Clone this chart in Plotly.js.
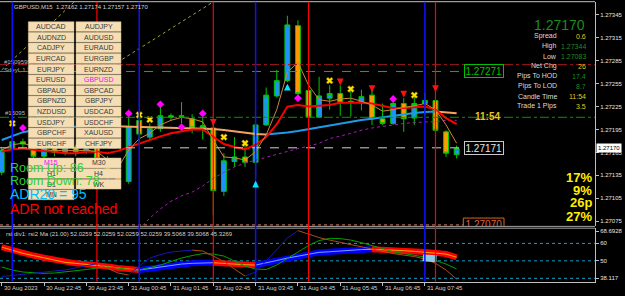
<!DOCTYPE html>
<html>
<head>
<meta charset="utf-8">
<script src="https://cdn.plot.ly/plotly-3.0.1.min.js"></script>
<style>
html,body{margin:0;padding:0;background:#000;overflow:hidden;}
#chart{width:625px;height:296px;}
</style>
</head>
<body>
<div id="chart"></div>
<script>
// ---------------- data ----------------
const barTimes = ['30 Aug 21:45','30 Aug 22:00','30 Aug 22:15','30 Aug 22:30','30 Aug 22:45','30 Aug 23:00','30 Aug 23:15','30 Aug 23:30','30 Aug 23:45',
'31 Aug 00:00','31 Aug 00:15','31 Aug 00:30','31 Aug 00:45','31 Aug 01:00','31 Aug 01:15','31 Aug 01:30','31 Aug 01:45','31 Aug 02:00','31 Aug 02:15','31 Aug 02:30',
'31 Aug 02:45','31 Aug 03:00','31 Aug 03:15','31 Aug 03:30','31 Aug 03:45','31 Aug 04:00','31 Aug 04:15','31 Aug 04:30','31 Aug 04:45','31 Aug 05:00',
'31 Aug 05:15','31 Aug 05:30','31 Aug 05:45','31 Aug 06:00','31 Aug 06:15','31 Aug 06:30','31 Aug 06:45','31 Aug 07:00','31 Aug 07:15','31 Aug 07:30',
'31 Aug 07:45','31 Aug 08:00','31 Aug 08:15','31 Aug 08:30'];

const openP  = [1.27139,1.27170,1.27179,1.27176,1.27160,1.27173,1.27165,1.27172,1.27166,1.27172,
1.27157,1.27140,1.27127,1.27207,1.27185,1.27196,1.27213,1.27213,1.27209,1.27196,
1.27197,1.27114,1.27153,1.27159,1.27152,1.27201,1.27239,1.27259,1.27331,1.27246,
1.27211,1.27236,1.27242,1.27232,1.27230,1.27240,1.27209,1.27203,1.27229,1.27210,
1.27229,1.27233,1.27192,1.27162];
const highP  = [1.27172,1.27190,1.27183,1.27180,1.27177,1.27178,1.27176,1.27175,1.27178,1.27176,
1.27160,1.27145,1.27212,1.27215,1.27203,1.27227,1.27216,1.27231,1.27215,1.27212,
1.27205,1.27164,1.27185,1.27177,1.27203,1.27250,1.27273,1.27344,1.27338,1.27249,
1.27264,1.27253,1.27253,1.27245,1.27247,1.27247,1.27229,1.27234,1.27236,1.27237,
1.27243,1.27242,1.27194,1.27174];
const lowP   = [1.27135,1.27166,1.27171,1.27155,1.27157,1.27160,1.27161,1.27160,1.27163,1.27150,
1.27120,1.27118,1.27124,1.27179,1.27181,1.27192,1.27207,1.27203,1.27190,1.27182,
1.27083,1.27108,1.27146,1.27146,1.27133,1.27200,1.27237,1.27257,1.27237,1.27205,
1.27210,1.27221,1.27213,1.27212,1.27220,1.27201,1.27201,1.27201,1.27192,1.27201,
1.27214,1.27186,1.27159,1.27157];
const closeP = [1.27168,1.27179,1.27176,1.27160,1.27173,1.27165,1.27172,1.27166,1.27174,1.27157,
1.27140,1.27128,1.27199,1.27189,1.27196,1.27213,1.27211,1.27212,1.27197,1.27200,
1.27115,1.27154,1.27159,1.27152,1.27201,1.27240,1.27259,1.27332,1.27242,1.27211,
1.27239,1.27242,1.27230,1.27231,1.27238,1.27209,1.27203,1.27229,1.27209,1.27229,
1.27233,1.27194,1.27164,1.27170];

// main-panel indicator lines
const maRed = [1.27166,1.27169,1.27170,1.27168,1.27167,1.27166,1.27164,1.27164,1.27166,1.27166,
1.27164,1.27167,1.27172,1.27177,1.27182,1.27186,1.27190,1.27193,1.27195,1.27195,
1.27186,1.27176,1.27172,1.27169,1.27175,1.27185,1.27202,1.27225,1.27227,1.27225,
1.27226,1.27227,1.27230,1.27230,1.27230,1.27229,1.27226,1.27223,1.27223,1.27224,
1.27225,1.27221,1.27210,1.27202];
const maTrend = [1.271812,1.271862,1.271915,1.271940,1.271958,1.271970,1.271980,1.271987,1.271994,1.272000,
1.271996,1.271993,1.271990,1.271987,1.271984,1.271981,1.271978,1.271975,1.271971,1.271966,
1.271958,1.271942,1.271922,1.271902,1.271890,1.271886,1.271895,1.271912,1.271930,1.271955,
1.271980,1.272003,1.272028,1.272052,1.272073,1.272092,1.272112,1.272132,1.272150,1.272166,
1.272178,1.272185,1.272176,1.272163];
const maFast = [1.27168,1.27175,1.27177,1.27173,1.27169,1.27167,1.27168,1.27167,1.27168,1.27166,
1.27155,1.27145,1.27168,1.27183,1.27190,1.27201,1.27207,1.27211,1.27209,1.27205,
1.27181,1.27159,1.27158,1.27155,1.27166,1.27188,1.27221,1.27270,1.27283,1.27253,
1.27234,1.27232,1.27235,1.27236,1.27232,1.27227,1.27219,1.27221,1.27224,1.27226,
1.27229,1.27221,1.27201,1.27177];
const bandLow = [null,null,null,null,null,null,null,null,null,null,
null,1.27035,1.27050,1.27065,1.27079,1.27091,1.27101,1.27108,1.27113,1.27121,
1.27131,1.27139,1.27146,1.27151,1.27155,1.27159,1.27163,1.27167,1.27170,1.27173,
1.27177,1.27183,1.27186,1.27190,1.27194,1.27197,1.27199,1.27201,1.27203,1.27204,
1.27205,1.27205,1.27207,1.27207];
const oliveA_idx = [0, 8],  oliveA_p = [1.27273, 1.27377];
const oliveB_idx = [9, 21], oliveB_p = [1.27266, 1.27371];

// signal marks
const diamondIdx = [2,12,15,17,19,28,37];
const diamondP   = [1.27197,1.27216,1.27228,1.27198,1.27216,1.27236,1.27235];
const crossIdx   = [1,13,14,21,23,31,33,39];
const crossP     = [1.27203,1.27214,1.27208,1.27185,1.27177,1.27259,1.27248,1.27240];
const downIdx    = [20,32,35,38,41];
const downP      = [1.27204,1.27257,1.27248,1.27241,1.27248];
const upIdx      = [24,27];
const upP        = [1.27124,1.27251];

// horizontal price levels
const levelPrices = [1.27280, 1.27271, 1.27211, 1.27171, 1.27070];
const priceTicks  = [1.27345,1.27315,1.27285,1.27255,1.27225,1.27195,1.27165,1.27135,1.27105,1.27075];

// vertical session lines
const vBlueTimes = ['30 Aug 22:00','31 Aug 01:00','31 Aug 03:45','31 Aug 07:45'];
const vRedTimes  = ['31 Aug 00:00','31 Aug 02:45','31 Aug 05:00','31 Aug 08:00'];

// x tick labels
const tickTimes  = ['30 Aug 21:45','30 Aug 22:45','30 Aug 23:45','31 Aug 00:45','31 Aug 01:45','31 Aug 02:45','31 Aug 03:45','31 Aug 04:45','31 Aug 05:45','31 Aug 06:45','31 Aug 07:45'];
const tickLabels = ['30 Aug 2023','30 Aug 22:45','30 Aug 23:45','31 Aug 00:45','31 Aug 01:45','31 Aug 02:45','31 Aug 03:45','31 Aug 04:45','31 Aug 05:45','31 Aug 06:45','31 Aug 07:45'];

// lower (rsi) panel
const rsiMa = [57.89,56.06,54.29,53.03,51.77,50.74,49.14,48.57,48.00,47.60,
46.74,45.89,45.31,44.74,45.60,46.29,47.31,48.17,48.57,48.86,
48.91,48.46,48.00,47.77,47.60,48.74,50.17,51.60,52.74,54.06,
54.86,55.20,55.71,56.17,56.46,56.57,56.40,56.17,55.83,55.43,
55.03,54.57,53.89,52.03];
const rsiSig = [46.46,44.74,43.60,43.03,42.86,43.03,43.60,44.17,45.03,45.89,
46.46,45.89,45.03,44.74,46.17,47.60,49.60,51.60,53.03,54.17,
53.89,52.74,49.89,47.03,45.31,45.03,47.60,51.31,55.31,58.74,
61.60,62.86,62.74,61.89,60.46,58.86,57.03,55.20,54.17,53.31,
52.17,50.17,48.17,45.33];
const rsiVal = [41.03,41.71,42.46,42.86,43.60,44.17,44.74,45.89,47.03,48.46,
45.89,43.03,41.89,47.03,51.60,53.60,55.03,55.77,56.17,55.60,
52.74,49.60,45.31,41.31,43.60,49.89,56.17,63.03,67.31,65.31,
63.31,61.89,60.46,59.31,58.06,56.74,55.31,54.17,53.31,52.46,
51.03,48.57,44.74,39.51];
const blobIdx = [39.8, 40.4, 41.1];
const blobV   = [51.7, 51.6, 51.2];
const rsiLevels = [60, 50, 40];
const rsiTickVals = [67.0, 60, 50, 40];
const rsiTickText = ['68.6928','60','50','38.117'];

// panels / texts
const pairsLeft  = ['AUDCAD','AUDNZD','CADJPY','EURCAD','EURJPY','EURUSD','GBPAUD','GBPNZD','NZDUSD','USDJPY','GBPCHF','EURCHF'];
const pairsRight = ['AUDJPY','AUDUSD','EURAUD','EURGBP','EURNZD','GBPUSD','GBPCAD','GBPJPY','USDCAD','USDCHF','XAUUSD','CHFJPY'];
const tfLeft  = ['M15','H1','D1','MN'];
const tfRight = ['M30','H4','WK'];
const infoLabels = ['Spread','High','Low','Net Chg','Pips To HOD','Pips To LOD','Candle Time','Trade 1 Pips'];
const infoValues = ['0.6','1.27344','1.27083','26','17.4','8.7','11:54','3.5'];
const infoKinds  = ['y','g','g','y','g','g','y','y'];
const pctTexts = ['17%','9%','26p','27%'];

// ---------------- helpers ----------------
const F = 'Liberation Sans, Arial, sans-serif';
const PW = 595, PH = 282;
const px = v => v / PW;
const py = v => 1 - v / PH;
const posAtPx = v => (v - 1.7) / 10.58;
const xs = barTimes.map((t, i) => i);
const ix = t => barTimes.indexOf(t);
const XL = posAtPx(0), XR = posAtPx(595);

function trendRuns(xv, yv, upColor, downColor, width, yaxis) {
  const out = [];
  let start = 0;
  const dir = k => yv[k + 1] >= yv[k];
  for (let k = 0; k < yv.length - 1; k++) {
    if (k === yv.length - 2 || dir(k + 1) !== dir(k)) {
      out.push({type: 'scatter', mode: 'lines', x: xv.slice(start, k + 2), y: yv.slice(start, k + 2),
        xaxis: 'x', yaxis: yaxis, line: {color: dir(k) ? upColor : downColor, width: width},
        hoverinfo: 'skip', showlegend: false});
      start = k + 1;
    }
  }
  return out;
}

// ---------------- traces ----------------
const traces = [];
traces.push({type: 'candlestick', x: xs, open: openP, high: highP, low: lowP, close: closeP,
  xaxis: 'x', yaxis: 'y', whiskerwidth: 0, hoverinfo: 'skip', showlegend: false,
  increasing: {line: {color: '#00C800', width: 1}, fillcolor: '#1E90FF'},
  decreasing: {line: {color: '#00C800', width: 1}, fillcolor: '#FF9900'}});
traces.push({type: 'scatter', mode: 'lines', x: xs, y: bandLow, xaxis: 'x', yaxis: 'y',
  line: {color: '#A020B0', width: 1, dash: 'dot'}, hoverinfo: 'skip', showlegend: false});
traces.push({type: 'scatter', mode: 'lines', x: oliveA_idx, y: oliveA_p, xaxis: 'x', yaxis: 'y',
  line: {color: '#A0A040', width: 1, dash: 'dot'}, hoverinfo: 'skip', showlegend: false});
traces.push({type: 'scatter', mode: 'lines', x: oliveB_idx, y: oliveB_p, xaxis: 'x', yaxis: 'y',
  line: {color: '#A0A040', width: 1, dash: 'dot'}, hoverinfo: 'skip', showlegend: false});
traces.push(...trendRuns(xs, maTrend, '#1C9BE8', '#F4A460', 2, 'y'));
traces.push({type: 'scatter', mode: 'lines', x: xs, y: maRed, xaxis: 'x', yaxis: 'y',
  line: {color: '#FF0000', width: 2}, hoverinfo: 'skip', showlegend: false});
traces.push({type: 'scatter', mode: 'lines', x: xs, y: maFast, xaxis: 'x', yaxis: 'y',
  line: {color: '#C8873A', width: 1}, hoverinfo: 'skip', showlegend: false});
traces.push({type: 'scatter', mode: 'markers', x: diamondIdx, y: diamondP, xaxis: 'x', yaxis: 'y',
  marker: {symbol: 'diamond', size: 6, color: '#FF00FF'}, hoverinfo: 'skip', showlegend: false});
traces.push({type: 'scatter', mode: 'markers', x: crossIdx, y: crossP, xaxis: 'x', yaxis: 'y',
  marker: {symbol: 'x', size: 6, color: '#FFE000', line: {color: '#807000', width: 0.5}}, hoverinfo: 'skip', showlegend: false});
// left partially hidden object labels
traces.push({type: 'scatter', mode: 'text', x: [posAtPx(4), posAtPx(4), posAtPx(5)], y: [1.27283, 1.27272, 1.27216],
  text: ['#1509595', 'Sdeyl, 1.2', '#15095'], textposition: 'middle right', cliponaxis: true,
  textfont: {family: F, size: 6, color: '#B8B8B8'}, xaxis: 'x', yaxis: 'y', hoverinfo: 'skip', showlegend: false});

// lower panel
traces.push(...trendRuns(xs, rsiMa, '#0000FF', '#FF0000', 6, 'y2'));
traces.push(...trendRuns(xs, rsiMa, '#7FA0FF', '#FFA500', 1, 'y2'));
traces.push({type: 'scatter', mode: 'lines', x: xs, y: rsiSig, xaxis: 'x', yaxis: 'y2',
  line: {color: '#00A000', width: 1}, hoverinfo: 'skip', showlegend: false});
traces.push(...trendRuns(xs, rsiVal, '#1515C0', '#B04A1A', 1, 'y2'));
traces.push({type: 'scatter', mode: 'lines', x: blobIdx, y: blobV, xaxis: 'x', yaxis: 'y2',
  line: {color: '#87CEEB', width: 7}, hoverinfo: 'skip', showlegend: false});

// ---------------- shapes ----------------
const shapes = [];
const gray = '#BFBFBF';
shapes.push({type: 'line', xref: 'paper', yref: 'paper', x0: 0, x1: 1, y0: py(1.7), y1: py(1.7), line: {color: gray, width: 1}, layer: 'above'});
shapes.push({type: 'line', xref: 'paper', yref: 'paper', x0: 0, x1: 1, y0: py(226.4), y1: py(226.4), line: {color: '#A0A0A0', width: 1}, layer: 'above'});
shapes.push({type: 'line', xref: 'paper', yref: 'paper', x0: 0, x1: 1, y0: py(228.2), y1: py(228.2), line: {color: '#A0A0A0', width: 1}, layer: 'above'});
const levelStyles = [
  {c: '#A01818', d: 'dashdot', end: XR},
  {c: '#00C000', d: 'dash', end: posAtPx(463)},
  {c: '#009A00', d: 'dashdot', end: XR},
  {c: '#D0D0D0', d: 'dash', end: posAtPx(463)},
  {c: '#E08060', d: 'dot', end: posAtPx(463)}
];
levelPrices.forEach((p, k) => shapes.push({type: 'line', xref: 'x', yref: 'y', x0: XL, x1: levelStyles[k].end, y0: p, y1: p,
  line: {color: levelStyles[k].c, width: 1, dash: levelStyles[k].d}, layer: 'above'}));
rsiLevels.forEach(v => shapes.push({type: 'line', xref: 'x', yref: 'y2', x0: XL, x1: XR, y0: v, y1: v,
  line: {color: '#0AA5C8', width: 1, dash: 'dot'}, layer: 'below'}));
vBlueTimes.forEach(t => shapes.push({type: 'line', xref: 'x', yref: 'paper', x0: ix(t), x1: ix(t), y0: py(281.6), y1: py(1.7),
  line: {color: '#1010FF', width: 1.5}, layer: 'above'}));
vRedTimes.forEach(t => shapes.push({type: 'line', xref: 'x', yref: 'paper', x0: ix(t), x1: ix(t), y0: py(281.6), y1: py(1.7),
  line: {color: '#FF0000', width: 1.2}, layer: 'above'}));
// bottom clipped price box (outline only)
shapes.push({type: 'rect', xref: 'x', yref: 'y', x0: posAtPx(463.3), x1: posAtPx(504), y0: 1.27079, y1: 1.27050,
  line: {color: '#D2691E', width: 1}, fillcolor: 'rgba(0,0,0,0)', layer: 'above'});

// clipped bottom price box text (drawn as a trace so the panel edge clips it)
traces.push({type: 'scatter', mode: 'text', x: [posAtPx(483.7)], y: [1.270690], text: ['1.27070'],
  textposition: 'middle center', cliponaxis: true, textfont: {family: F, size: 10, color: '#E0603A'},
  xaxis: 'x', yaxis: 'y', hoverinfo: 'skip', showlegend: false});

// button panels
const btnFill = '#F5DEB3';
const colX = [[28.3, 74], [76, 121]];
const annotations = [];
function button(x0, x1, y0, y1, label, color) {
  shapes.push({type: 'rect', xref: 'paper', yref: 'paper', x0: px(x0), x1: px(x1), y0: py(y1), y1: py(y0),
    fillcolor: btnFill, line: {color: '#CDB894', width: 0.5}, layer: 'above'});
  annotations.push({xref: 'paper', yref: 'paper', x: px((x0 + x1) / 2), y: py((y0 + y1) / 2), text: label, showarrow: false,
    xanchor: 'center', yanchor: 'middle', font: {family: F, size: 7, color: color}});
}
pairsLeft.forEach((s, k) => { const y0 = 21.7 + 10.62 * k; button(colX[0][0], colX[0][1], y0, y0 + 9.9, s, '#3A3A3A'); });
pairsRight.forEach((s, k) => { const y0 = 21.7 + 10.62 * k; button(colX[1][0], colX[1][1], y0, y0 + 9.9, s, s === 'GBPUSD' ? '#FF00FF' : '#3A3A3A'); });
tfLeft.forEach((s, k) => { const y0 = 158 + 10.6 * k; button(colX[0][0], colX[0][1], y0, y0 + 9.9, s, s === 'M15' ? '#FF00FF' : '#3A3A3A'); });
tfRight.forEach((s, k) => { const y0 = 158 + 10.6 * k; button(colX[1][0], colX[1][1], y0, y0 + 9.9, s, '#3A3A3A'); });

// ---------------- annotations ----------------
function txt(x, y, text, opt) {
  annotations.push(Object.assign({xref: 'paper', yref: 'paper', x: px(x), y: py(y), text: text, showarrow: false,
    xanchor: 'left', yanchor: 'middle', font: {family: F, size: 6, color: '#D0D0D0'}}, opt || {}));
}
txt(12, 6.5, 'GBPUSD,M15\u00a0\u00a01.27162 1.27174 1.27157 1.27170');
txt(4, 233.5, 'rsi div1: rsi2 Ma (21.00) 52.0259 52.0259 52.0259 52.0259 39.5068 39.5068 45.3269');

// x tick labels
tickTimes.forEach((t, k) => annotations.push({xref: 'x', yref: 'paper', x: ix(t), y: py(288.5), text: tickLabels[k],
  showarrow: false, xanchor: 'left', yanchor: 'middle', xshift: 0, font: {family: F, size: 6, color: '#D0D0D0'}}));

// info panel
txt(587, 25, '1.27170', {xanchor: 'right', font: {family: F, size: 14, color: '#1E8C1E'}});
infoLabels.forEach((s, k) => {
  const y = 36.3 + 9.97 * k;
  txt(559, y, s, {xanchor: 'right', font: {family: F, size: 7, color: '#DCDCDC'}});
  txt(588, y, infoValues[k], {xanchor: 'right', font: {family: F, size: 7, color: infoKinds[k] === 'y' ? '#E8C51A' : '#1E8C1E'}});
});

// price boxes
txt(483.7, 70.8, '1.27271', {xanchor: 'center', bgcolor: '#000', bordercolor: '#00C000', borderwidth: 1, borderpad: 0.5,
  font: {family: F, size: 10, color: '#00C000'}});
txt(483.7, 147.5, '1.27171', {xanchor: 'center', bgcolor: '#000', bordercolor: '#C8C8C8', borderwidth: 1, borderpad: 0.5,
  font: {family: F, size: 10, color: '#E8E8E8'}});
txt(487.5, 116.5, '<b>11:54</b>', {xanchor: 'center', font: {family: F, size: 10, color: '#E8C51A'}});
txt(596, 148, '1.27170', {xanchor: 'left', bgcolor: '#FFFFFF', borderpad: 1, font: {family: F, size: 6, color: '#000000'}});

// left status texts
txt(8, 168.3, 'Room Up: 86', {font: {family: F, size: 12.5, color: '#32CD32'}});
txt(8, 180.5, 'Room Down: 78', {font: {family: F, size: 12.5, color: '#32CD32'}});
txt(8, 194, 'ADR20 = 95', {font: {family: F, size: 14, color: '#00C0FF'}});
txt(8, 209.3, 'ADR not reached', {font: {family: F, size: 14, color: '#FF0000'}});

// right percent texts
const pctY = [177.7, 190.8, 202.5, 216.5];
pctTexts.forEach((s, k) => txt(594, pctY[k], '<b>' + s + '</b>', {xanchor: 'right', font: {family: F, size: 13, color: '#FFF000'}}));

// arrows
downIdx.forEach((i, k) => annotations.push({xref: 'x', yref: 'y', x: i, y: downP[k], text: '', showarrow: true,
  arrowhead: 2, arrowsize: 0.75, arrowwidth: 1.8, arrowcolor: '#FF1010', ax: 0, ay: -7, yshift: -3, standoff: 0}));
upIdx.forEach((i, k) => annotations.push({xref: 'x', yref: 'y', x: i, y: upP[k], text: '', showarrow: true,
  arrowhead: 2, arrowsize: 0.75, arrowwidth: 1.8, arrowcolor: '#00E5FF', ax: 0, ay: 7, yshift: 3, standoff: 0}));

// ---------------- layout ----------------
const layout = {
  width: 625, height: 296,
  margin: {l: 0, r: 30, t: 0, b: 14, pad: 0},
  paper_bgcolor: '#000000', plot_bgcolor: '#000000',
  showlegend: false, boxgap: 0.34, dragmode: false, hovermode: false,
  xaxis: {range: [XL, XR], anchor: 'y2', showgrid: false, zeroline: false, showline: true, linecolor: gray, linewidth: 1,
    ticks: 'outside', ticklen: 3, tickcolor: gray, tickvals: tickTimes.map(ix), showticklabels: false,
    rangeslider: {visible: false}, fixedrange: true},
  yaxis: {domain: [py(226), py(1.7)], range: [1.270686, 1.273624], side: 'right', anchor: 'x',
    showgrid: false, zeroline: false, showline: true, linecolor: gray, linewidth: 1,
    ticks: 'outside', ticklen: 3, tickcolor: gray, tickvals: priceTicks, ticktext: priceTicks.map(v => v.toFixed(5)),
    tickfont: {family: F, size: 6, color: '#E6E6E6'}, fixedrange: true},
  yaxis2: {domain: [py(281.6), py(228.2)], range: [38.117, 68.6928], side: 'right', anchor: 'x',
    showgrid: false, zeroline: false, showline: true, linecolor: gray, linewidth: 1,
    ticks: 'outside', ticklen: 3, tickcolor: gray, tickvals: rsiTickVals, ticktext: rsiTickText,
    tickfont: {family: F, size: 6, color: '#E6E6E6'}, fixedrange: true},
  shapes: shapes,
  annotations: annotations
};

Plotly.newPlot('chart', traces, layout, {staticPlot: true, displayModeBar: false});
</script>
</body>
</html>
